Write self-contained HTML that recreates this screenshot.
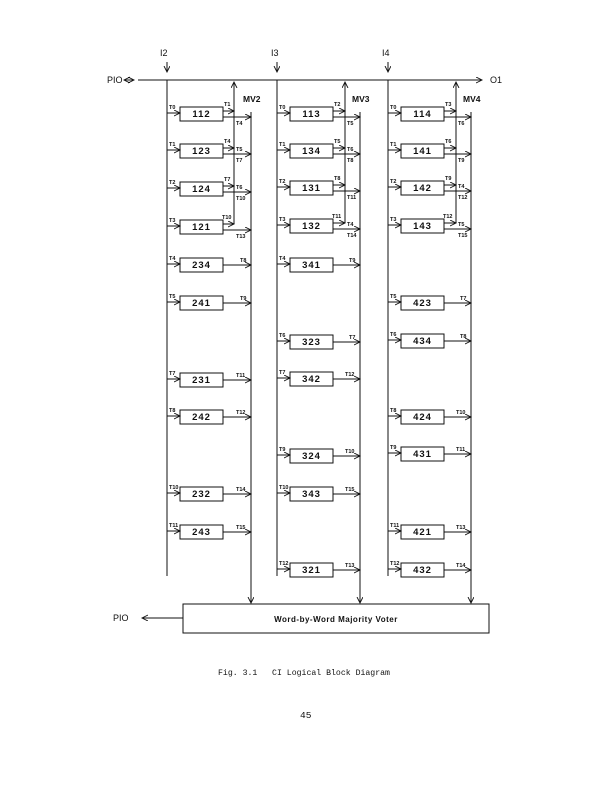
<!DOCTYPE html>
<html><head><meta charset="utf-8"><style>
html,body{margin:0;padding:0;background:#fff;}
svg{display:block;}
text{font-family:"Liberation Sans",sans-serif;fill:#111;}
.n{font-size:9.5px;font-weight:bold;text-anchor:middle;letter-spacing:1px;}
.t{font-size:5.5px;font-weight:bold;}
.h{font-size:9px;}
</style></head><body>
<svg width="612" height="791" viewBox="0 0 612 791" xmlns="http://www.w3.org/2000/svg">
<defs>
<marker id="a" markerWidth="8" markerHeight="8" refX="6" refY="3" orient="auto" markerUnits="userSpaceOnUse"><path d="M0,0 L6,3 L0,6" fill="none" stroke="#111" stroke-width="0.9"/></marker>
</defs>
<g stroke="#111" stroke-width="1" fill="none">
<line x1="138" y1="80" x2="482" y2="80" marker-end="url(#a)"/>
<line x1="125" y1="80" x2="134" y2="80" marker-end="url(#a)"/>
<line x1="133" y1="80" x2="124" y2="80" marker-end="url(#a)"/>
<line x1="167" y1="62" x2="167" y2="72" marker-end="url(#a)"/>
<line x1="277" y1="62" x2="277" y2="72" marker-end="url(#a)"/>
<line x1="388" y1="62" x2="388" y2="72" marker-end="url(#a)"/>
<line x1="167" y1="80" x2="167" y2="576"/>
<line x1="277" y1="80" x2="277" y2="576"/>
<line x1="388" y1="80" x2="388" y2="576"/>
<line x1="234" y1="224" x2="234" y2="82" marker-end="url(#a)"/>
<line x1="345" y1="223" x2="345" y2="82" marker-end="url(#a)"/>
<line x1="456" y1="223" x2="456" y2="82" marker-end="url(#a)"/>
<line x1="251" y1="112" x2="251" y2="603" marker-end="url(#a)"/>
<line x1="360" y1="112" x2="360" y2="603" marker-end="url(#a)"/>
<line x1="471" y1="112" x2="471" y2="603" marker-end="url(#a)"/>
<rect x="183" y="604" width="306" height="29"/>
<line x1="183" y1="618" x2="142" y2="618" marker-end="url(#a)"/>

<line x1="167" y1="113" x2="180" y2="113" marker-end="url(#a)"/><rect x="180" y="107" width="43" height="14"/>
<line x1="223" y1="111" x2="234" y2="111" marker-end="url(#a)"/><line x1="223" y1="117" x2="251" y2="117" marker-end="url(#a)"/>
<line x1="167" y1="150" x2="180" y2="150" marker-end="url(#a)"/><rect x="180" y="144" width="43" height="14"/>
<line x1="223" y1="148" x2="234" y2="148" marker-end="url(#a)"/><line x1="223" y1="154" x2="251" y2="154" marker-end="url(#a)"/>
<line x1="167" y1="188" x2="180" y2="188" marker-end="url(#a)"/><rect x="180" y="182" width="43" height="14"/>
<line x1="223" y1="186" x2="234" y2="186" marker-end="url(#a)"/><line x1="223" y1="192" x2="251" y2="192" marker-end="url(#a)"/>
<line x1="167" y1="226" x2="180" y2="226" marker-end="url(#a)"/><rect x="180" y="220" width="43" height="14"/>
<line x1="223" y1="224" x2="234" y2="224" marker-end="url(#a)"/><line x1="223" y1="230" x2="251" y2="230" marker-end="url(#a)"/>
<line x1="277" y1="113" x2="290" y2="113" marker-end="url(#a)"/><rect x="290" y="107" width="43" height="14"/>
<line x1="333" y1="111" x2="345" y2="111" marker-end="url(#a)"/><line x1="333" y1="117" x2="360" y2="117" marker-end="url(#a)"/>
<line x1="277" y1="150" x2="290" y2="150" marker-end="url(#a)"/><rect x="290" y="144" width="43" height="14"/>
<line x1="333" y1="148" x2="345" y2="148" marker-end="url(#a)"/><line x1="333" y1="154" x2="360" y2="154" marker-end="url(#a)"/>
<line x1="277" y1="187" x2="290" y2="187" marker-end="url(#a)"/><rect x="290" y="181" width="43" height="14"/>
<line x1="333" y1="185" x2="345" y2="185" marker-end="url(#a)"/><line x1="333" y1="191" x2="360" y2="191" marker-end="url(#a)"/>
<line x1="277" y1="225" x2="290" y2="225" marker-end="url(#a)"/><rect x="290" y="219" width="43" height="14"/>
<line x1="333" y1="223" x2="345" y2="223" marker-end="url(#a)"/><line x1="333" y1="229" x2="360" y2="229" marker-end="url(#a)"/>
<line x1="388" y1="113" x2="401" y2="113" marker-end="url(#a)"/><rect x="401" y="107" width="43" height="14"/>
<line x1="444" y1="111" x2="456" y2="111" marker-end="url(#a)"/><line x1="444" y1="117" x2="471" y2="117" marker-end="url(#a)"/>
<line x1="388" y1="150" x2="401" y2="150" marker-end="url(#a)"/><rect x="401" y="144" width="43" height="14"/>
<line x1="444" y1="148" x2="456" y2="148" marker-end="url(#a)"/><line x1="444" y1="154" x2="471" y2="154" marker-end="url(#a)"/>
<line x1="388" y1="187" x2="401" y2="187" marker-end="url(#a)"/><rect x="401" y="181" width="43" height="14"/>
<line x1="444" y1="185" x2="456" y2="185" marker-end="url(#a)"/><line x1="444" y1="191" x2="471" y2="191" marker-end="url(#a)"/>
<line x1="388" y1="225" x2="401" y2="225" marker-end="url(#a)"/><rect x="401" y="219" width="43" height="14"/>
<line x1="444" y1="223" x2="456" y2="223" marker-end="url(#a)"/><line x1="444" y1="229" x2="471" y2="229" marker-end="url(#a)"/>

<line x1="167" y1="264" x2="180" y2="264" marker-end="url(#a)"/><rect x="180" y="258" width="43" height="14"/><line x1="223" y1="265" x2="251" y2="265" marker-end="url(#a)"/>
<line x1="167" y1="302" x2="180" y2="302" marker-end="url(#a)"/><rect x="180" y="296" width="43" height="14"/><line x1="223" y1="303" x2="251" y2="303" marker-end="url(#a)"/>
<line x1="167" y1="379" x2="180" y2="379" marker-end="url(#a)"/><rect x="180" y="373" width="43" height="14"/><line x1="223" y1="380" x2="251" y2="380" marker-end="url(#a)"/>
<line x1="167" y1="416" x2="180" y2="416" marker-end="url(#a)"/><rect x="180" y="410" width="43" height="14"/><line x1="223" y1="417" x2="251" y2="417" marker-end="url(#a)"/>
<line x1="167" y1="493" x2="180" y2="493" marker-end="url(#a)"/><rect x="180" y="487" width="43" height="14"/><line x1="223" y1="494" x2="251" y2="494" marker-end="url(#a)"/>
<line x1="167" y1="531" x2="180" y2="531" marker-end="url(#a)"/><rect x="180" y="525" width="43" height="14"/><line x1="223" y1="532" x2="251" y2="532" marker-end="url(#a)"/>
<line x1="277" y1="264" x2="290" y2="264" marker-end="url(#a)"/><rect x="290" y="258" width="43" height="14"/><line x1="333" y1="265" x2="360" y2="265" marker-end="url(#a)"/>
<line x1="277" y1="341" x2="290" y2="341" marker-end="url(#a)"/><rect x="290" y="335" width="43" height="14"/><line x1="333" y1="342" x2="360" y2="342" marker-end="url(#a)"/>
<line x1="277" y1="378" x2="290" y2="378" marker-end="url(#a)"/><rect x="290" y="372" width="43" height="14"/><line x1="333" y1="379" x2="360" y2="379" marker-end="url(#a)"/>
<line x1="277" y1="455" x2="290" y2="455" marker-end="url(#a)"/><rect x="290" y="449" width="43" height="14"/><line x1="333" y1="456" x2="360" y2="456" marker-end="url(#a)"/>
<line x1="277" y1="493" x2="290" y2="493" marker-end="url(#a)"/><rect x="290" y="487" width="43" height="14"/><line x1="333" y1="494" x2="360" y2="494" marker-end="url(#a)"/>
<line x1="277" y1="569" x2="290" y2="569" marker-end="url(#a)"/><rect x="290" y="563" width="43" height="14"/><line x1="333" y1="570" x2="360" y2="570" marker-end="url(#a)"/>
<line x1="388" y1="302" x2="401" y2="302" marker-end="url(#a)"/><rect x="401" y="296" width="43" height="14"/><line x1="444" y1="303" x2="471" y2="303" marker-end="url(#a)"/>
<line x1="388" y1="340" x2="401" y2="340" marker-end="url(#a)"/><rect x="401" y="334" width="43" height="14"/><line x1="444" y1="341" x2="471" y2="341" marker-end="url(#a)"/>
<line x1="388" y1="416" x2="401" y2="416" marker-end="url(#a)"/><rect x="401" y="410" width="43" height="14"/><line x1="444" y1="417" x2="471" y2="417" marker-end="url(#a)"/>
<line x1="388" y1="453" x2="401" y2="453" marker-end="url(#a)"/><rect x="401" y="447" width="43" height="14"/><line x1="444" y1="454" x2="471" y2="454" marker-end="url(#a)"/>
<line x1="388" y1="531" x2="401" y2="531" marker-end="url(#a)"/><rect x="401" y="525" width="43" height="14"/><line x1="444" y1="532" x2="471" y2="532" marker-end="url(#a)"/>
<line x1="388" y1="569" x2="401" y2="569" marker-end="url(#a)"/><rect x="401" y="563" width="43" height="14"/><line x1="444" y1="570" x2="471" y2="570" marker-end="url(#a)"/>
</g>

<text class="h" x="160" y="56">I2</text>
<text class="h" x="271" y="56">I3</text>
<text class="h" x="382" y="56">I4</text>
<text class="h" x="107" y="83">PIO</text>
<text class="h" x="490" y="83">O1</text>
<text class="h" x="113" y="621">PIO</text>
<text class="h" style="font-weight:bold;font-size:8.5px" x="243" y="102">MV2</text>
<text class="h" style="font-weight:bold;font-size:8.5px" x="352" y="102">MV3</text>
<text class="h" style="font-weight:bold;font-size:8.5px" x="463" y="102">MV4</text>
<text x="336" y="622" style="font-size:8px;font-weight:bold;text-anchor:middle;letter-spacing:0.5px">Word-by-Word Majority Voter</text>
<text x="218" y="675" style="font-family:'Liberation Mono',monospace;font-size:8.2px;white-space:pre">Fig. 3.1   CI Logical Block Diagram</text>
<text x="300" y="718" style="font-family:'Liberation Mono',monospace;font-size:9.5px">45</text>

<text class="n" x="201.5" y="117">112</text><text class="n" x="201.5" y="154">123</text><text class="n" x="201.5" y="192">124</text><text class="n" x="201.5" y="230">121</text>
<text class="n" x="201.5" y="268">234</text><text class="n" x="201.5" y="306">241</text><text class="n" x="201.5" y="383">231</text><text class="n" x="201.5" y="420">242</text><text class="n" x="201.5" y="497">232</text><text class="n" x="201.5" y="535">243</text>
<text class="n" x="311.5" y="117">113</text><text class="n" x="311.5" y="154">134</text><text class="n" x="311.5" y="191">131</text><text class="n" x="311.5" y="229">132</text>
<text class="n" x="311.5" y="268">341</text><text class="n" x="311.5" y="345">323</text><text class="n" x="311.5" y="382">342</text><text class="n" x="311.5" y="459">324</text><text class="n" x="311.5" y="497">343</text><text class="n" x="311.5" y="573">321</text>
<text class="n" x="422.5" y="117">114</text><text class="n" x="422.5" y="154">141</text><text class="n" x="422.5" y="191">142</text><text class="n" x="422.5" y="229">143</text>
<text class="n" x="422.5" y="306">423</text><text class="n" x="422.5" y="344">434</text><text class="n" x="422.5" y="420">424</text><text class="n" x="422.5" y="457">431</text><text class="n" x="422.5" y="535">421</text><text class="n" x="422.5" y="573">432</text>

<g class="t">
<text class="t" x="169" y="109">T0</text><text class="t" x="224" y="106">T1</text><text class="t" x="236" y="125">T4</text>
<text class="t" x="169" y="146">T1</text><text class="t" x="224" y="143">T4</text><text class="t" x="236" y="151">T5</text><text class="t" x="236" y="162">T7</text>
<text class="t" x="169" y="184">T2</text><text class="t" x="224" y="181">T7</text><text class="t" x="236" y="189">T6</text><text class="t" x="236" y="200">T10</text>
<text class="t" x="169" y="222">T3</text><text class="t" x="222" y="219">T10</text><text class="t" x="236" y="238">T13</text>
<text class="t" x="169" y="260">T4</text><text class="t" x="240" y="262">T8</text>
<text class="t" x="169" y="298">T5</text><text class="t" x="240" y="300">T9</text>
<text class="t" x="169" y="375">T7</text><text class="t" x="236" y="377">T11</text>
<text class="t" x="169" y="412">T8</text><text class="t" x="236" y="414">T12</text>
<text class="t" x="169" y="489">T10</text><text class="t" x="236" y="491">T14</text>
<text class="t" x="169" y="527">T11</text><text class="t" x="236" y="529">T15</text>
<text class="t" x="279" y="109">T0</text><text class="t" x="334" y="106">T2</text><text class="t" x="347" y="125">T5</text>
<text class="t" x="279" y="146">T1</text><text class="t" x="334" y="143">T5</text><text class="t" x="347" y="151">T6</text><text class="t" x="347" y="162">T8</text>
<text class="t" x="279" y="183">T2</text><text class="t" x="334" y="180">T8</text><text class="t" x="347" y="199">T11</text>
<text class="t" x="279" y="221">T3</text><text class="t" x="332" y="218">T11</text><text class="t" x="347" y="226">T4</text><text class="t" x="347" y="237">T14</text>
<text class="t" x="279" y="260">T4</text><text class="t" x="349" y="262">T9</text>
<text class="t" x="279" y="337">T6</text><text class="t" x="349" y="339">T7</text>
<text class="t" x="279" y="374">T7</text><text class="t" x="345" y="376">T12</text>
<text class="t" x="279" y="451">T9</text><text class="t" x="345" y="453">T10</text>
<text class="t" x="279" y="489">T10</text><text class="t" x="345" y="491">T15</text>
<text class="t" x="279" y="565">T12</text><text class="t" x="345" y="567">T13</text>
<text class="t" x="390" y="109">T0</text><text class="t" x="445" y="106">T3</text><text class="t" x="458" y="125">T6</text>
<text class="t" x="390" y="146">T1</text><text class="t" x="445" y="143">T6</text><text class="t" x="458" y="162">T9</text>
<text class="t" x="390" y="183">T2</text><text class="t" x="445" y="180">T9</text><text class="t" x="458" y="188">T4</text><text class="t" x="458" y="199">T12</text>
<text class="t" x="390" y="221">T3</text><text class="t" x="443" y="218">T12</text><text class="t" x="458" y="226">T5</text><text class="t" x="458" y="237">T15</text>
<text class="t" x="390" y="298">T5</text><text class="t" x="460" y="300">T7</text>
<text class="t" x="390" y="336">T6</text><text class="t" x="460" y="338">T8</text>
<text class="t" x="390" y="412">T8</text><text class="t" x="456" y="414">T10</text>
<text class="t" x="390" y="449">T9</text><text class="t" x="456" y="451">T11</text>
<text class="t" x="390" y="527">T11</text><text class="t" x="456" y="529">T13</text>
<text class="t" x="390" y="565">T12</text><text class="t" x="456" y="567">T14</text>
</g>
</svg>
</body></html>
